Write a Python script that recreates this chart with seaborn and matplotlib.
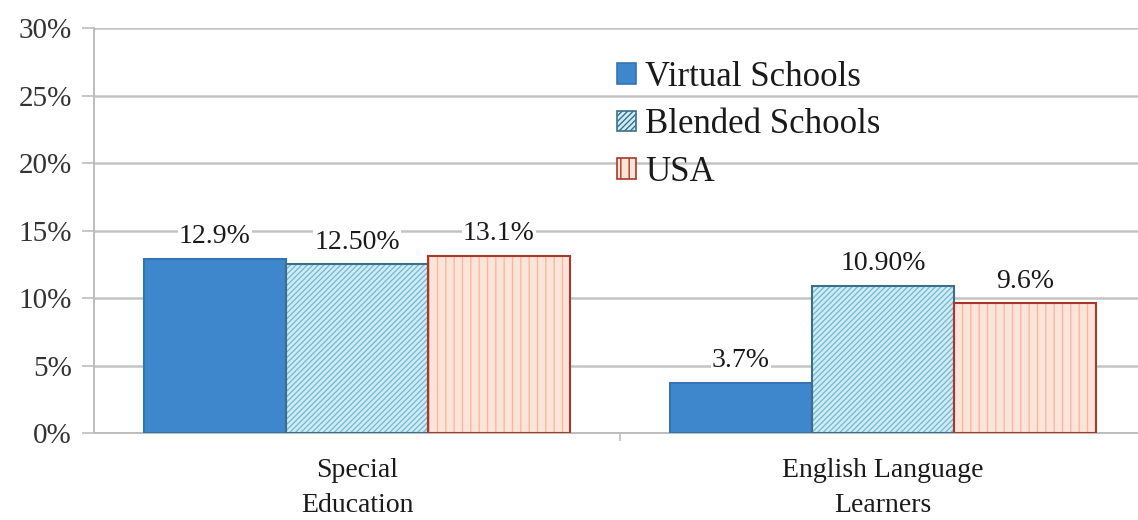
import numpy as np
import pandas as pd
import matplotlib.pyplot as plt
import matplotlib.patches as mpatches
from matplotlib.ticker import FuncFormatter, FixedLocator
import seaborn as sns

categories = ['Special\nEducation', 'English Language\nLearners']
series = ['Virtual Schools', 'Blended Schools', 'USA']
virtual = [12.9, 3.7]
blended = [12.5, 10.9]
usa = [13.1, 9.6]
value_labels = {
    'Virtual Schools': ['12.9%', '3.7%'],
    'Blended Schools': ['12.50%', '10.90%'],
    'USA': ['13.1%', '9.6%'],
}
y_ticks = [0, 5, 10, 15, 20, 25, 30]

df = pd.DataFrame({
    'category': categories * 3,
    'series': [s for s in series for _ in categories],
    'value': virtual + blended + usa,
})

sns.set_style('white')
plt.rcParams['font.family'] = ['Liberation Serif', 'DejaVu Serif']
plt.rcParams['hatch.linewidth'] = 1.0

# fill, hatch, hatch colour, edge
styles = {
    'Virtual Schools': ('#3f87cc', '', '#3f87cc', '#3574b0'),
    'Blended Schools': ('#cdeef8', '//////', '#7fb8cf', '#3d6f8a'),
    'USA': ('#fde4d8', '||', '#f5b9a2', '#a8382c'),
}

fig = plt.figure(figsize=(11.38, 5.2), dpi=100)
ax = fig.add_axes([0.0826, 0.1673, 0.9174, 0.7788])

sns.barplot(data=df, x='category', y='value', hue='series', hue_order=series,
            order=categories, width=0.81, gap=0, ax=ax, legend=False,
            palette=[styles[s][0] for s in series], saturation=1)

for cont, name in zip(ax.containers, series):
    fill, hatch, hcol, edge = styles[name]
    for bar, lab in zip(cont, value_labels[name]):
        bar.set_facecolor(fill)
        bar.set_hatch(hatch)
        bar.set_edgecolor(hcol)
        bar.set_linewidth(0)
        bar.set_zorder(2)
        # outline drawn separately so hatch colour and edge colour can differ
        x0, y0 = bar.get_x(), bar.get_y()
        ax.add_patch(mpatches.Rectangle((x0, y0), bar.get_width(), bar.get_height(),
                                        fill=False, edgecolor=edge, linewidth=1.5,
                                        zorder=3))
        ax.annotate(lab, (x0 + bar.get_width() / 2, bar.get_height()),
                    xytext=(0, 7), textcoords='offset points',
                    ha='center', va='bottom', fontsize=20, color='#1a1a1a',
                    bbox=dict(facecolor='white', edgecolor='none', pad=1),
                    zorder=4)

ax.set_ylim(0, 30)
ax.set_xlim(-0.5, 1.485)
ax.yaxis.set_major_locator(FixedLocator(y_ticks))
ax.yaxis.set_major_formatter(FuncFormatter(lambda v, p: f'{v:.0f}%'))
ax.yaxis.grid(True, color='#c4c4c4', linewidth=1.8)
ax.set_axisbelow(True)
ax.tick_params(axis='y', length=9, width=1.2, color='#bdbdbd', labelsize=21,
               labelcolor='#333333', pad=7, left=True)
ax.tick_params(axis='x', length=0, labelsize=20, labelcolor='#1a1a1a', pad=18)
for lab in ax.get_xticklabels():
    lab.set_linespacing(1.5)
ax.xaxis.set_minor_locator(FixedLocator([0.5]))
ax.tick_params(axis='x', which='minor', length=6, width=1.2, color='#bdbdbd', bottom=True)
ax.set_xlabel('')
ax.set_ylabel('')

for side in ['top', 'right']:
    ax.spines[side].set_visible(False)
for side in ['left', 'bottom']:
    ax.spines[side].set_color('#bdbdbd')
    ax.spines[side].set_linewidth(1.4)

handles = []
for name in series:
    fill, hatch, hcol, edge = styles[name]
    handles.append(mpatches.Patch(facecolor=fill, edgecolor=edge, hatch=hatch,
                                  linewidth=1.2, label=name))
leg = fig.legend(handles=handles, loc='upper left', bbox_to_anchor=(0.521, 0.93),
                 frameon=False, fontsize=25, handlelength=0.55, handleheight=0.55,
                 handletextpad=0.25, labelspacing=0.42, borderpad=0.2)
for t in leg.get_texts():
    t.set_color('#1a1a1a')

fig.savefig('out.png', dpi=100)
